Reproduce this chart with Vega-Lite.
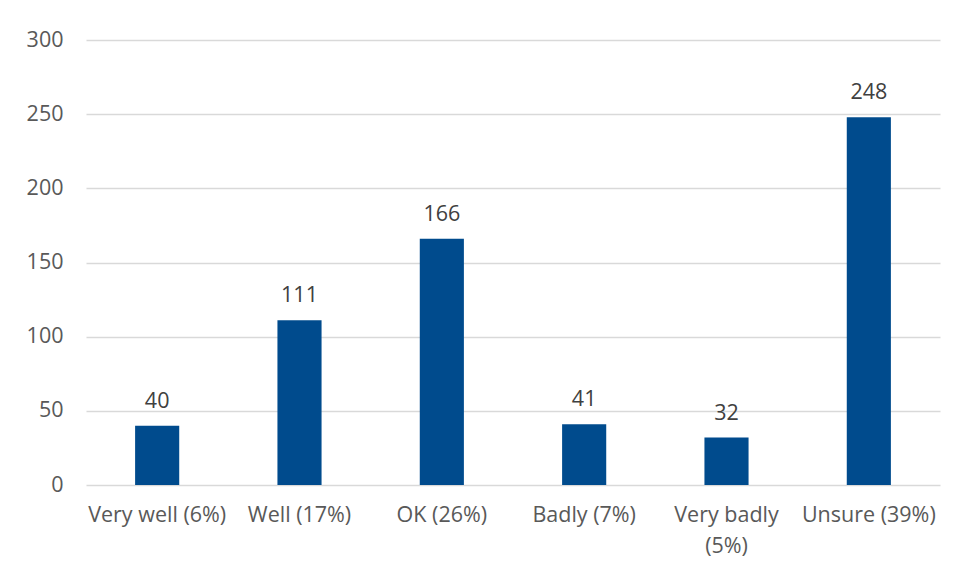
{
  "$schema": "https://vega.github.io/schema/vega-lite/v6.json",
  "width": 854,
  "height": 445,
  "autosize": {"type": "none"},
  "padding": {"left": 86, "top": 40, "right": 17, "bottom": 84},
  "background": "white",
  "config": {
    "view": {"stroke": null},
    "font": "Open Sans",
    "axis": {"labelFont": "Open Sans", "labelColor": "#595959", "labelFontSize": 21.5}
  },
  "data": {
    "values": [
      {"category": "Very well (6%)", "count": 40},
      {"category": "Well (17%)", "count": 111},
      {"category": "OK (26%)", "count": 166},
      {"category": "Badly (7%)", "count": 41},
      {"category": "Very badly (5%)", "count": 32},
      {"category": "Unsure (39%)", "count": 248}
    ]
  },
  "encoding": {
    "x": {
      "field": "category",
      "type": "nominal",
      "sort": null,
      "scale": {"paddingInner": 0.69, "paddingOuter": 0.345},
      "axis": {
        "title": null,
        "labelAngle": 0,
        "domain": false,
        "ticks": false,
        "labelPadding": 19,
        "labelLimit": 200,
        "labelLineHeight": 31,
        "labelExpr": "datum.label == 'Very badly (5%)' ? ['Very badly', '(5%)'] : datum.label"
      }
    },
    "y": {
      "field": "count",
      "type": "quantitative",
      "scale": {"domain": [0, 300]},
      "axis": {
        "title": null,
        "values": [0, 50, 100, 150, 200, 250, 300],
        "domain": false,
        "ticks": false,
        "labelPadding": 23,
        "gridColor": "#d9d9d9",
        "gridWidth": 1.5
      }
    }
  },
  "layer": [
    {"mark": {"type": "bar", "color": "#004b8d"}},
    {
      "mark": {"type": "text", "baseline": "alphabetic", "dy": -18, "fontSize": 21.5, "color": "#404040", "font": "Open Sans"},
      "encoding": {"text": {"field": "count", "type": "quantitative"}}
    }
  ]
}
